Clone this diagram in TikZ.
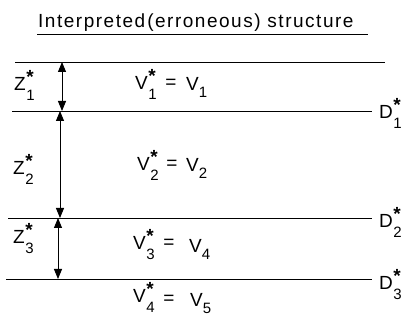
\documentclass[tikz,border=0pt]{standalone}
\usepackage{fontspec}
\setmainfont{Liberation Sans}
\usetikzlibrary{arrows.meta}
\newcommand\subf{\fontsize{15}{16}\selectfont}
\newcommand\starf{\fontsize{19}{20}\selectfont\bfseries}
\newcommand\lyr[2]{#1\kern0.5pt\rlap{\raisebox{0.42em}{\starf *}}\raisebox{-0.5em}{\subf #2}}
\newcommand\vel[2]{#1\raisebox{-0.35em}{\subf #2}}
\begin{document}
\begin{tikzpicture}[x=1pt,y=-1pt,
  lbl/.style={font=\fontsize{19}{20}\selectfont, inner sep=0pt, anchor=base west},
  eq/.style={font=\fontsize{19}{20}\selectfont, inner sep=0pt, anchor=center},
  ttl/.style={font=\fontsize{19}{20}\selectfont\addfontfeature{LetterSpace=8}, inner sep=0pt},
  bnd/.style={line width=0.9pt},
  dim/.style={line width=0.9pt, {Triangle[length=10pt,width=8pt]}-{Triangle[length=10pt,width=8pt]}}]
\useasboundingbox (0,0) rectangle (408,320);
% title
\node[ttl,anchor=base west] (title) at (38,28) {Interpreted\kern2pt(erroneous) structure};
\draw[bnd] (37,34) -- (368,34);
% boundaries
\coordinate (t0) at (15,62);  \coordinate (t1) at (385,62);
\coordinate (a0) at (12,111); \coordinate (a1) at (372,111);
\coordinate (b0) at (8,218);  \coordinate (b1) at (372,218);
\coordinate (c0) at (6,279);  \coordinate (c1) at (372,279);
\draw[bnd] (t0) -- (t1);
\draw[bnd] (a0) -- (a1);
\draw[bnd] (b0) -- (b1);
\draw[bnd] (c0) -- (c1);
% boundary labels
\node[lbl] (d1) at (379,119) {\lyr{D}{1}};
\node[lbl] (d2) at (379,228) {\lyr{D}{2}};
\node[lbl] (d3) at (379,290) {\lyr{D}{3}};
% thickness arrows
\coordinate (z1t) at (62,62);  \coordinate (z1b) at (62,111);
\coordinate (z2t) at (60,111); \coordinate (z2b) at (60,218);
\coordinate (z3t) at (58,218); \coordinate (z3b) at (58,279);
\draw[dim] (z1t) -- (z1b);
\draw[dim] (z2t) -- (z2b);
\draw[dim] (z3t) -- (z3b);
% thickness labels
\node[lbl] (z1) at (14,91)  {\lyr{Z}{1}};
\node[lbl] (z2) at (13,175) {\lyr{Z}{2}};
\node[lbl] (z3) at (13,244) {\lyr{Z}{3}};
% velocity labels
\node[lbl] (v1l) at (135,90)  {\lyr{V}{1}};
\node[eq]  (v1e) at (171,84)  {=};
\node[lbl] (v1r) at (186,91)  {\vel{V}{1}};
\node[lbl] (v2l) at (137,171) {\lyr{V}{2}};
\node[eq]  (v2e) at (172,165) {=};
\node[lbl] (v2r) at (186,172) {\vel{V}{2}};
\node[lbl] (v3l) at (133,250) {\lyr{V}{3}};
\node[eq]  (v3e) at (169,244) {=};
\node[lbl] (v3r) at (189,253) {\vel{V}{4}};
\node[lbl] (v4l) at (133,303) {\lyr{V}{4}};
\node[eq]  (v4e) at (169,300) {=};
\node[lbl] (v4r) at (190,307) {\vel{V}{5}};
\end{tikzpicture}
\end{document}
